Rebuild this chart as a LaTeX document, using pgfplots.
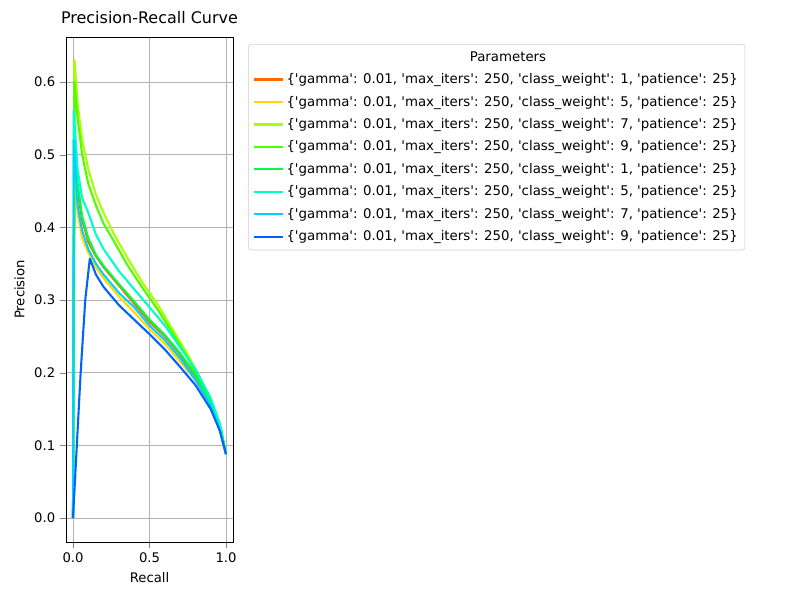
\documentclass[border=0pt]{standalone}
\usepackage{pgfplots}
\pgfplotsset{compat=1.18}
\usepackage{fontspec}
\setmainfont{DejaVu Sans}[Ligatures=TeXOff]
\definecolor{c1}{HTML}{FF6A00}
\definecolor{c2}{HTML}{FFD800}
\definecolor{c3}{HTML}{AAFF00}
\definecolor{c4}{HTML}{4CFF00}
\definecolor{c5}{HTML}{00FF44}
\definecolor{c6}{HTML}{00FFC8}
\definecolor{c7}{HTML}{00D0FF}
\definecolor{c8}{HTML}{0062FF}
\begin{document}
\begin{tikzpicture}
\path (0pt,0pt) rectangle (576pt,432pt);
\begin{axis}[at={(47.52pt,41.76pt)},anchor=south west,scale only axis,
 width=120.24pt,height=363.6pt,
 xmin=-0.0458,xmax=1.0458,ymin=-0.033,ymax=0.662,
 xtick={0,0.5,1},ytick={0,0.1,0.2,0.3,0.4,0.5,0.6},
 xticklabel style={/pgf/number format/.cd,fixed,fixed zerofill,precision=1},
 yticklabel style={/pgf/number format/.cd,fixed,fixed zerofill,precision=1},
 /pgf/number format/assume math mode=true,
 tick label style={font=\fontsize{9.5}{11}\selectfont},
 label style={font=\fontsize{9.5}{11}\selectfont},
 grid=major,grid style={gray!60,line width=0.6pt},
 tick align=outside,tick pos=left,
 xlabel={Recall},ylabel={Precision},
 title={Precision-Recall Curve},title style={font=\fontsize{11.5}{14}\selectfont},
 legend style={at={(rel axis cs:1.09,0.986)},anchor=north west,font=\fontsize{9.6}{11.5}\selectfont,draw=gray!40,rounded corners=2pt,cells={anchor=west},row sep=3.4pt,inner sep=3pt},
 legend image code/.code={\draw[#1] (0pt,0pt) -- (21pt,0pt);},
 every axis plot/.append style={line width=1.5pt,line join=round},
]
\addlegendimage{empty legend}
\addlegendentry{\hspace*{132pt}Parameters}
\addplot[c1] coordinates {(0,0)(0.01,0.50)(0.03,0.45)(0.06,0.41)(0.1,0.38)(0.15,0.36)(0.2,0.345)(0.3,0.32)(0.4,0.295)(0.5,0.27)(0.6,0.25)(0.7,0.225)(0.8,0.195)(0.9,0.16)(0.96,0.125)(1,0.088)};
\addlegendentry{\{'gamma': 0.01, 'max\_iters': 250, 'class\_weight': 1, 'patience': 25\}}
\addplot[c2] coordinates {(0,0)(0.01,0.47)(0.03,0.42)(0.06,0.385)(0.1,0.365)(0.15,0.345)(0.2,0.33)(0.3,0.305)(0.4,0.283)(0.5,0.26)(0.6,0.24)(0.7,0.215)(0.8,0.19)(0.9,0.155)(0.96,0.12)(1,0.088)};
\addlegendentry{\{'gamma': 0.01, 'max\_iters': 250, 'class\_weight': 5, 'patience': 25\}}
\addplot[c3] coordinates {(0,0)(0.01,0.63)(0.03,0.57)(0.06,0.52)(0.1,0.48)(0.15,0.445)(0.2,0.42)(0.27,0.39)(0.35,0.36)(0.45,0.325)(0.55,0.295)(0.65,0.26)(0.75,0.225)(0.85,0.185)(0.92,0.15)(0.97,0.12)(1.0,0.088)};
\addlegendentry{\{'gamma': 0.01, 'max\_iters': 250, 'class\_weight': 7, 'patience': 25\}}
\addplot[c4] coordinates {(0,0)(0.01,0.60)(0.03,0.55)(0.06,0.50)(0.1,0.46)(0.15,0.43)(0.2,0.405)(0.27,0.38)(0.35,0.35)(0.45,0.318)(0.55,0.288)(0.65,0.255)(0.75,0.22)(0.85,0.18)(0.92,0.15)(0.97,0.12)(1,0.088)};
\addlegendentry{\{'gamma': 0.01, 'max\_iters': 250, 'class\_weight': 9, 'patience': 25\}}
\addplot[c5] coordinates {(0,0)(0.01,0.51)(0.03,0.46)(0.06,0.415)(0.1,0.385)(0.15,0.362)(0.2,0.347)(0.3,0.322)(0.4,0.298)(0.5,0.273)(0.6,0.252)(0.7,0.227)(0.8,0.197)(0.9,0.162)(0.96,0.126)(1,0.088)};
\addlegendentry{\{'gamma': 0.01, 'max\_iters': 250, 'class\_weight': 1, 'patience': 25\}}
\addplot[c6] coordinates {(0,0)(0.005,0.56)(0.03,0.48)(0.06,0.44)(0.1,0.42)(0.15,0.39)(0.2,0.37)(0.3,0.34)(0.4,0.315)(0.5,0.29)(0.6,0.265)(0.7,0.235)(0.8,0.205)(0.9,0.165)(0.96,0.13)(1,0.088)};
\addlegendentry{\{'gamma': 0.01, 'max\_iters': 250, 'class\_weight': 5, 'patience': 25\}}
\addplot[c7] coordinates {(0,0)(0.005,0.52)(0.03,0.43)(0.06,0.395)(0.1,0.37)(0.15,0.35)(0.2,0.335)(0.3,0.31)(0.4,0.29)(0.5,0.265)(0.6,0.245)(0.7,0.22)(0.8,0.19)(0.9,0.155)(0.96,0.12)(1,0.088)};
\addlegendentry{\{'gamma': 0.01, 'max\_iters': 250, 'class\_weight': 7, 'patience': 25\}}
\addplot[c8] coordinates {(0,0)(0.05,0.2)(0.08,0.3)(0.11,0.357)(0.15,0.335)(0.2,0.318)(0.3,0.293)(0.4,0.273)(0.5,0.253)(0.6,0.232)(0.7,0.208)(0.8,0.183)(0.9,0.15)(0.96,0.12)(1,0.088)};
\addlegendentry{\{'gamma': 0.01, 'max\_iters': 250, 'class\_weight': 9, 'patience': 25\}}
\end{axis}
\end{tikzpicture}
\end{document}
